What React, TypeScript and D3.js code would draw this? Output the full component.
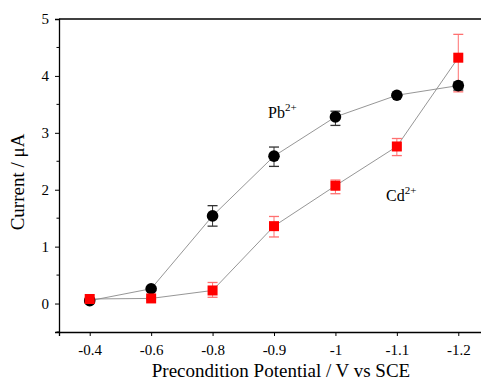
import React, { useEffect, useRef } from 'react';
import * as d3 from 'd3';

// precondition potentials (V vs SCE), plotted as evenly spaced categories
const potentials = ['-0.4', '-0.6', '-0.8', '-0.9', '-1', '-1.1', '-1.2'];
const yTicks = [0, 1, 2, 3, 4, 5];

// Pb2+ peak current (uA) and error bars
const pbCurrent = [0.05, 0.26, 1.54, 2.59, 3.28, 3.66, 3.83];
const pbErrUp = [0.02, 0.03, 0.18, 0.16, 0.1, 0.03, 0.06];
const pbErrDown = [0.02, 0.03, 0.18, 0.18, 0.15, 0.03, 0.08];

// Cd2+ peak current (uA) and error bars
const cdCurrent = [0.08, 0.09, 0.23, 1.36, 2.07, 2.76, 4.32];
const cdErrUp = [0.02, 0.02, 0.14, 0.17, 0.1, 0.14, 0.41];
const cdErrDown = [0.02, 0.02, 0.12, 0.19, 0.14, 0.16, 0.6];

const FONT = '"Liberation Serif", "Times New Roman", serif';

export default function App() {
    const ref = useRef<SVGSVGElement>(null);

    useEffect(() => {
        if (!ref.current) return;
        const svg = d3.select(ref.current);
        svg.selectAll('*').remove();

        const width = 481;
        const height = 381;
        const left = 59, top = 19, bottom = 332;

        const x = d3.scaleLinear().domain([-0.5, 6.5]).range([left, 489]);
        const y = d3.scaleLinear().domain([-0.5, 5]).range([bottom, top]);

        svg.append('rect').attr('width', width).attr('height', height).attr('fill', '#fff');

        const g = svg.append('g');

        // frame: top line, left and bottom axes
        g.append('line').attr('x1', left).attr('x2', width).attr('y1', top).attr('y2', top)
            .attr('stroke', '#000').attr('stroke-width', 1.3);

        const yAxis = d3.axisLeft(y).tickValues(yTicks).tickSize(4).tickPadding(6)
            .tickFormat(d => String(d));
        const yAx = g.append('g').attr('transform', `translate(${left},0)`).call(yAxis)
            .attr('font-family', FONT).attr('font-size', 15);
        yAx.select('.domain').attr('stroke-width', 1.3);
        yAx.selectAll('text').attr('fill', '#000');

        const yMinor = d3.range(-0.5, 5, 1);
        g.selectAll('.yminor').data(yMinor).enter().append('line')
            .attr('x1', left - 2.5).attr('x2', left)
            .attr('y1', d => y(d)).attr('y2', d => y(d))
            .attr('stroke', '#000');

        const xAxis = d3.axisBottom(x).tickValues(d3.range(potentials.length)).tickSize(4).tickPadding(8)
            .tickFormat((d) => potentials[d as number]);
        const xAx = g.append('g').attr('transform', `translate(0,${bottom})`).call(xAxis)
            .attr('font-family', FONT).attr('font-size', 15);
        xAx.select('.domain').attr('stroke-width', 1.3);
        xAx.selectAll('text').attr('fill', '#000');

        // axis titles
        svg.append('text').attr('x', 281).attr('y', 377).attr('text-anchor', 'middle')
            .attr('font-family', FONT).attr('font-size', 19).text('Precondition Potential / V vs SCE');
        svg.append('text').attr('transform', 'translate(24,182) rotate(-90)').attr('text-anchor', 'middle')
            .attr('font-family', FONT).attr('font-size', 19).text('Current / \u03bcA');

        const series = [
            { values: pbCurrent, up: pbErrUp, down: pbErrDown, color: '#000000', err: '#333333', shape: 'circle' },
            { values: cdCurrent, up: cdErrUp, down: cdErrDown, color: '#ff0000', err: '#ff7070', shape: 'square' },
        ];

        const line = d3.line<number>().x((_, i) => x(i)).y(d => y(d));

        series.forEach(s => {
            g.append('path').attr('d', line(s.values)).attr('fill', 'none')
                .attr('stroke', '#8a8a8a').attr('stroke-width', 0.9);
        });

        series.forEach(s => {
            const eb = g.append('g');
            s.values.forEach((v, i) => {
                const cx = x(i);
                const y1 = y(v + s.up[i]);
                const y2 = y(v - s.down[i]);
                eb.append('line').attr('x1', cx).attr('x2', cx).attr('y1', y1).attr('y2', y2)
                    .attr('stroke', s.err).attr('stroke-width', 1);
                [y1, y2].forEach(yy => {
                    eb.append('line').attr('x1', cx - 5).attr('x2', cx + 5).attr('y1', yy).attr('y2', yy)
                        .attr('stroke', s.err).attr('stroke-width', 1.3);
                });
            });
        });

        series.forEach(s => {
            if (s.shape === 'circle') {
                g.selectAll(null).data(s.values).enter().append('circle')
                    .attr('cx', (_, i) => x(i)).attr('cy', d => y(d)).attr('r', 5.8)
                    .attr('fill', s.color);
            } else {
                g.selectAll(null).data(s.values).enter().append('rect')
                    .attr('x', (_, i) => x(i) - 5).attr('y', d => y(d) - 5)
                    .attr('width', 10).attr('height', 10).attr('fill', s.color);
            }
        });

        // ion labels
        const pb = svg.append('text').attr('x', 268).attr('y', 118)
            .attr('font-family', FONT).attr('font-size', 16);
        pb.append('tspan').text('Pb');
        pb.append('tspan').attr('dy', -7).attr('font-size', 11).text('2+');

        const cd = svg.append('text').attr('x', 386).attr('y', 201)
            .attr('font-family', FONT).attr('font-size', 16);
        cd.append('tspan').text('Cd');
        cd.append('tspan').attr('dy', -7).attr('font-size', 11).text('2+');
    }, []);

    return (
        <div style={{ position: 'absolute', left: 0, top: 0 }}>
            <svg ref={ref} width={481} height={381} style={{ display: 'block' }} />
        </div>
    );
}
